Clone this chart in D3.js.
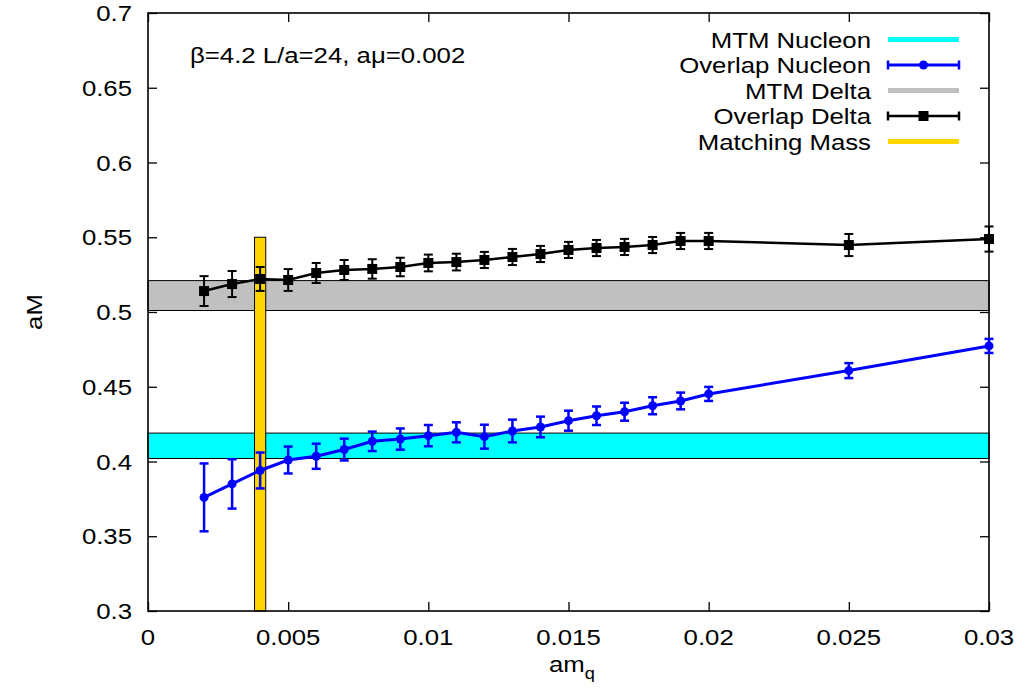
<!DOCTYPE html>
<html><head><meta charset="utf-8">
<script src="https://cdn.jsdelivr.net/npm/d3@7"></script>
<style>body{margin:0;background:#fff}svg{display:block}text{font-family:"Liberation Sans",Arial,sans-serif;fill:#000}</style>
</head><body><svg id="c" width="1034" height="688"></svg>
<script>
const mq = [0.002,0.003,0.004,0.005,0.006,0.007,0.008,0.009,0.010,0.011,0.012,0.013,0.014,0.015,0.016,0.017,0.018,0.019,0.020,0.025,0.030];
const nucleon = [0.376,0.385,0.394,0.401,0.4035,0.408,0.4135,0.415,0.4173,0.4195,0.4166,0.4204,0.4231,0.4273,0.4306,0.4333,0.4373,0.4405,0.4452,0.4608,0.4773];
const nucleonErr = [0.0227,0.0165,0.012,0.009,0.0084,0.0073,0.0065,0.0071,0.0071,0.0067,0.008,0.0076,0.0069,0.0067,0.0062,0.006,0.0057,0.0056,0.0047,0.005,0.0047];
const delta = [0.514,0.5187,0.5221,0.5214,0.5261,0.5281,0.5288,0.5301,0.5328,0.5334,0.5348,0.5368,0.5388,0.5415,0.5428,0.5435,0.5448,0.5475,0.5475,0.5448,0.5488];
const deltaErr = [0.010,0.0087,0.008,0.0073,0.0067,0.0067,0.0065,0.0062,0.0056,0.0056,0.0054,0.0054,0.0054,0.0054,0.0054,0.0054,0.0054,0.0054,0.0054,0.0074,0.0084];
const mtmNucleon = [0.402,0.419];
const mtmDelta = [0.501,0.521];
const matchX = [0.0038,0.0042];
const matchTop = 0.55;
const xTicks = [0,0.005,0.01,0.015,0.02,0.025,0.03];
const yTicks = [0.3,0.35,0.4,0.45,0.5,0.55,0.6,0.65,0.7];
const legendLabels = ["MTM Nucleon","Overlap Nucleon","MTM Delta","Overlap Delta","Matching Mass"];
const annotation = "β=4.2 L/a=24, aμ=0.002";

const SX = 1.14, FS = 22.6;
const svg = d3.select("#c");
const L = 148, R = 989, T = 13, B = 611;
const x = d3.scaleLinear().domain([0,0.03]).range([L,R]);
const y = d3.scaleLinear().domain([0.3,0.7]).range([B,T]);

function txt(g, s, px, py, anchor, rot) {
  const t = g.append("g").attr("transform", `translate(${px},${py})` + (rot ? ` rotate(${rot})` : "") + ` scale(${SX},1)`)
    .append("text").attr("font-size", FS).attr("text-anchor", anchor || "start").text(s);
  return t;
}

// bands
const bands = [[mtmNucleon,"#00ffff"],[mtmDelta,"#c0c0c0"]];
bands.forEach(([b,c]) => {
  svg.append("rect").attr("x", L).attr("width", R-L).attr("y", y(b[1])).attr("height", y(b[0])-y(b[1]))
    .attr("fill", c).attr("stroke", "#000").attr("stroke-width", 1);
});
// matching mass bar
svg.append("rect").attr("x", x(matchX[0])).attr("width", x(matchX[1])-x(matchX[0]))
  .attr("y", y(matchTop)).attr("height", y(0.3)-y(matchTop))
  .attr("fill", "#ffd700").attr("stroke", "#000").attr("stroke-width", 1);

// axes
const gx = svg.append("g").attr("transform", `translate(0,${B})`)
  .call(d3.axisBottom(x).tickValues(xTicks).tickSize(-9).tickFormat(""));
const gxt = svg.append("g").attr("transform", `translate(0,${T})`)
  .call(d3.axisTop(x).tickValues(xTicks).tickSize(-9).tickFormat(""));
const gy = svg.append("g").attr("transform", `translate(${L},0)`)
  .call(d3.axisLeft(y).tickValues(yTicks).tickSize(-9).tickFormat(""));
const gyr = svg.append("g").attr("transform", `translate(${R},0)`)
  .call(d3.axisRight(y).tickValues(yTicks).tickSize(-9).tickFormat(""));
[gx,gxt,gy,gyr].forEach(g => { g.select(".domain").remove(); g.selectAll("line").attr("stroke","#000").attr("stroke-width",1.3); });
svg.append("rect").attr("x",L).attr("y",T).attr("width",R-L).attr("height",B-T).attr("fill","none").attr("stroke","#000").attr("stroke-width",1.6);

const fmt = d => String(+d.toFixed(3));
xTicks.forEach(v => txt(svg, fmt(v), x(v), 645, "middle"));
yTicks.forEach(v => txt(svg, fmt(v), 132, y(v)+8, "end"));

// axis titles
txt(svg, "aM", 42, 312, "middle", -90);
const xl = svg.append("g").attr("transform", `translate(572,672) scale(${SX},1)`).append("text").attr("font-size",FS).attr("text-anchor","middle");
xl.append("tspan").text("am");
xl.append("tspan").attr("font-size",16).attr("dy",7).text("q");

txt(svg, annotation, 190, 63, "start");

// series
function series(vals, errs, color, lw, ew, marker) {
  const g = svg.append("g");
  const pts = mq.map((m,i) => ({m, v: vals[i], e: errs[i]}));
  g.append("path").datum(pts).attr("fill","none").attr("stroke",color).attr("stroke-width",lw)
    .attr("d", d3.line().x(d=>x(d.m)).y(d=>y(d.v)));
  pts.forEach(d => {
    const cx = x(d.m), y1 = y(d.v - d.e), y2 = y(d.v + d.e);
    g.append("line").attr("x1",cx).attr("x2",cx).attr("y1",y1).attr("y2",y2).attr("stroke",color).attr("stroke-width",ew);
    [y1,y2].forEach(yy => g.append("line").attr("x1",cx-4.5).attr("x2",cx+4.5).attr("y1",yy).attr("y2",yy).attr("stroke",color).attr("stroke-width",ew));
    marker(g, cx, y(d.v));
  });
}
const circ = (g,cx,cy) => g.append("circle").attr("cx",cx).attr("cy",cy).attr("r",4.5).attr("fill","#0000ff");
const sq = (g,cx,cy) => g.append("rect").attr("x",cx-5).attr("y",cy-5).attr("width",10).attr("height",10).attr("fill","#000");
series(nucleon, nucleonErr, "#0000ff", 3, 2.5, circ);
series(delta, deltaErr, "#000000", 2.5, 2, sq);

// legend
const rowY = [39.5, 65, 90.5, 116, 141.5];
const lx0 = 888, lx1 = 959, lxm = (lx0+lx1)/2;
legendLabels.forEach((s,i) => {
  txt(svg, s, 871, rowY[i]+8, "end");
});
[[0,"#00ffff"],[2,"#c0c0c0"],[4,"#ffd700"]].forEach(([i,c]) => {
  svg.append("line").attr("x1",lx0).attr("x2",lx1).attr("y1",rowY[i]).attr("y2",rowY[i]).attr("stroke",c).attr("stroke-width",5);
});
[[1,"#0000ff",3,circ],[3,"#000",2.5,sq]].forEach(([i,c,w,mk]) => {
  const yy = rowY[i];
  svg.append("line").attr("x1",lx0).attr("x2",lx1).attr("y1",yy).attr("y2",yy).attr("stroke",c).attr("stroke-width",w);
  [lx0,lx1].forEach(xx => svg.append("line").attr("x1",xx).attr("x2",xx).attr("y1",yy-4.5).attr("y2",yy+4.5).attr("stroke",c).attr("stroke-width",2.5));
  mk(svg, lxm, yy);
});
</script></body></html>
